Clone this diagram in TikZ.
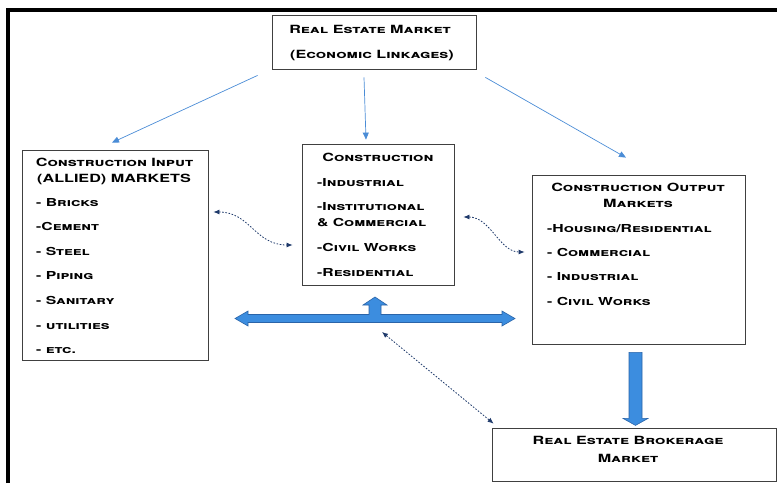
\documentclass[tikz,border=0pt]{standalone}
\usepackage{fontspec}
\setmainfont{TeX Gyre Heros}
\newfontfamily\cpfont[FakeStretch=1.43]{TeX Gyre Heros}
\usetikzlibrary{arrows.meta,calc}
\definecolor{clink}{HTML}{4A8CD6}
\definecolor{cblock}{HTML}{3C8DDF}
\definecolor{cblockline}{HTML}{2A64A8}
\definecolor{cdot}{HTML}{1F3A6B}
\tikzset{
  every picture/.style={>=Latex},
  box/.style={draw=black!75, line width=0.8pt, inner sep=0pt},
  head/.style={font=\fontsize{11.3}{13}\cpfont\bfseries\scshape, inner sep=0pt,
    text height=8pt, text depth=0pt},
  item/.style={font=\fontsize{11}{13}\cpfont\bfseries\scshape, inner sep=0pt,
    text height=8pt, text depth=0pt, anchor=west},
  link/.style={clink, line width=0.7pt, -{Triangle[length=7pt,width=6pt]}},
  dotlink/.style={cdot, line width=0.8pt, dash pattern=on 1.6pt off 1.6pt,
    {Latex[length=6pt,width=5pt]}-{Latex[length=6pt,width=5pt]}},
  block/.style={fill=cblock, draw=cblockline, line width=0.6pt, line join=miter},
}

\begin{document}
\begin{tikzpicture}[x=1pt,y=-1pt]
  \useasboundingbox (0,0) rectangle (777,483);
  % frame
  \draw[line width=4pt] (8,483) -- (8,9.5) -- (777,9.5);

  % boxes
  \node[box, minimum width=204pt, minimum height=54pt] (rebox) at (374,42) {};
  \node[box, minimum width=186pt, minimum height=210pt] (inbox) at (115,255) {};
  \node[box, minimum width=152pt, minimum height=141pt] (conbox) at (378,214.5) {};
  \node[box, minimum width=213pt, minimum height=169pt] (outbox) at (638.5,259.5) {};
  \node[box, minimum width=284pt, minimum height=53pt] (brokbox) at (634,454.5) {};

  \node[head] (rehead) at (370,29) {Real Estate Market};
  \node[head] (resub) at (372,54) {(Economic Linkages)};

  \node[head] (inhead) at (114.5,162) {Construction Input};
  \node[head] (insub) at (114,178) {(ALLIED) MARKETS};
  \foreach \t [count=\i from 0] in {- Bricks,-Cement,- Steel,- Piping,- Sanitary,- utilities,- etc.}
    \node[item] (in\i) at (36,{202+24.6*\i}) {\t};

  \node[head] (conhead) at (378,157) {Construction};
  \foreach \y/\t [count=\i] in {182/-Industrial,206/-Institutional,222/\& Commercial,247/-Civil Works,272/-Residential}
    \node[item] (con\i) at (317,\y) {\t};

  \node[head] (outhead) at (638,187) {Construction Output};
  \node[head] (outsub) at (638,203) {Markets};
  \foreach \t [count=\i from 0] in {-Housing/Residential,- Commercial,- Industrial,- Civil Works}
    \node[item] (out\i) at (547,{228+24.4*\i}) {\t};

  \node[head] (brokhead) at (628,440) {Real Estate Brokerage};
  \node[head] (broksub) at (628,458) {Market};

  % linkages from the top
  \draw[link] ([shift={(-14,6)}]rebox.south west) -- ([shift={(-3,-7)}]inbox.north);
  \draw[link] ([shift={(-10,8)}]rebox.south) -- ([shift={(-12,-4)}]conbox.north);
  \draw[link] ([shift={(9,8)}]rebox.south east) -- ([shift={(-12.5,-17)}]outbox.north);

  % dotted two-way links
  \draw[dotlink] ([shift={(5,-43)}]inbox.east) .. controls +(37,0) and +(-38,0) .. ([shift={(-9,30.5)}]conbox.west);
  \draw[dotlink] ([shift={(9,2.5)}]conbox.east) .. controls +(27,0) and +(-25,0) .. ([shift={(-7,-7.5)}]outbox.west);

  % block arrows
  \coordinate (hub) at (375,318.5);
  \draw[block, shift={(hub)}] (-140,0) -- (-127,-7.5) -- (-127,-4) -- (-6,-4) -- (-6,-13.5)
    -- (-12,-13.5) -- (0,-21.5) -- (12,-13.5) -- (6,-13.5) -- (6,-4) -- (127,-4)
    -- (127,-7.5) -- (140,0) -- (127,7.5) -- (127,4) -- (-127,4) -- (-127,7.5) -- cycle;
  \draw[dotlink] ([shift={(7,13.5)}]hub) -- ([shift={(2,-4)}]brokbox.north west);
  \draw[block] ($(outbox.south)+(-9.5,8)$) -- ++(13,0) -- ++(0,66) -- ++(6,0)
    -- ++(-12.5,7) -- ++(-12.5,-7) -- ++(6,0) -- cycle;
\end{tikzpicture}
\end{document}
